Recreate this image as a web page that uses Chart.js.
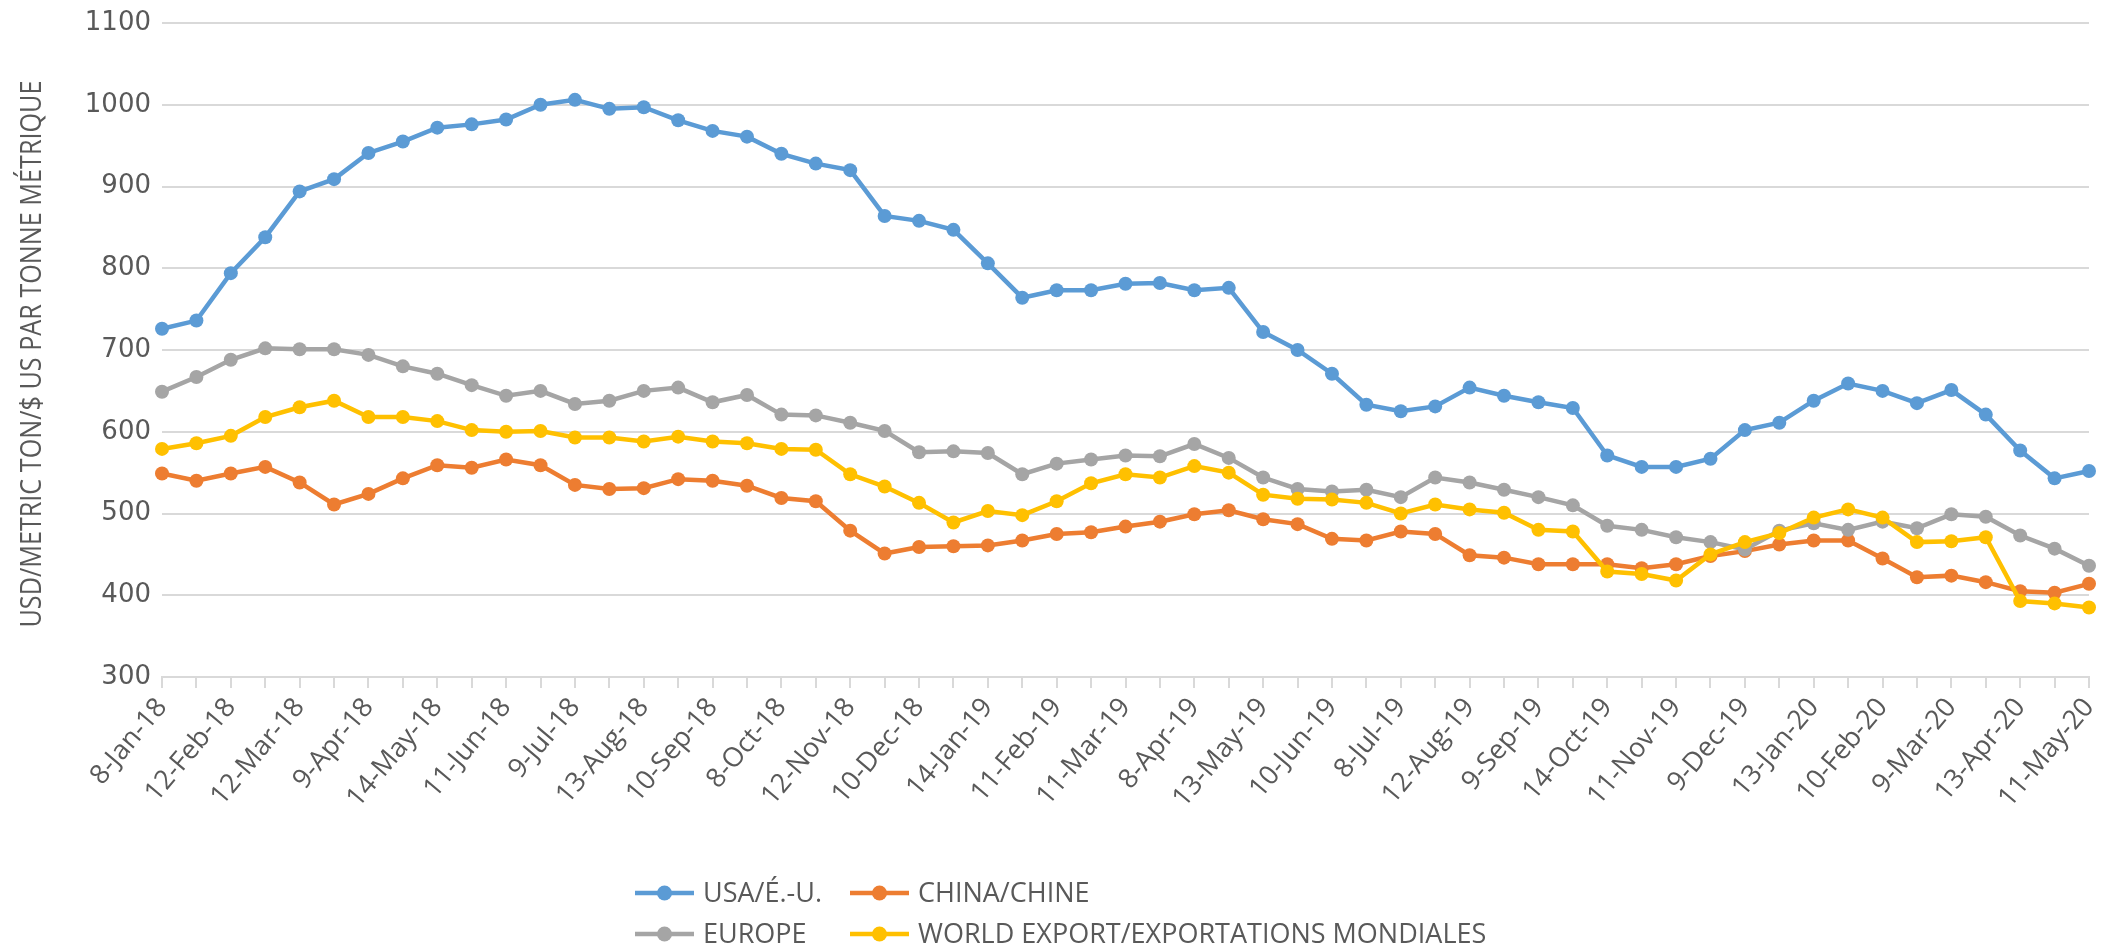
<!DOCTYPE html>
<html>
<head>
<meta charset="utf-8">
<script src="https://cdn.jsdelivr.net/npm/chart.js@4.4.0/dist/chart.umd.min.js"></script>
<style>
	html, body { margin: 0; padding: 0; background: #fff; }
</style>
</head>
<body>
<canvas id="chart1" width="2102" height="949"></canvas>
<script>
var dates = [
	"8-Jan-18", "22-Jan-18", "12-Feb-18", "26-Feb-18", "12-Mar-18", "26-Mar-18", "9-Apr-18", "23-Apr-18",
	"14-May-18", "28-May-18", "11-Jun-18", "25-Jun-18", "9-Jul-18", "23-Jul-18", "13-Aug-18", "27-Aug-18",
	"10-Sep-18", "24-Sep-18", "8-Oct-18", "22-Oct-18", "12-Nov-18", "26-Nov-18", "10-Dec-18", "24-Dec-18",
	"14-Jan-19", "28-Jan-19", "11-Feb-19", "25-Feb-19", "11-Mar-19", "25-Mar-19", "8-Apr-19", "22-Apr-19",
	"13-May-19", "27-May-19", "10-Jun-19", "24-Jun-19", "8-Jul-19", "22-Jul-19", "12-Aug-19", "26-Aug-19",
	"9-Sep-19", "23-Sep-19", "14-Oct-19", "28-Oct-19", "11-Nov-19", "25-Nov-19", "9-Dec-19", "23-Dec-19",
	"13-Jan-20", "27-Jan-20", "10-Feb-20", "24-Feb-20", "9-Mar-20", "23-Mar-20", "13-Apr-20", "27-Apr-20",
	"11-May-20"
];

var usa = [726, 736, 794, 838, 894, 909, 941, 955, 972, 976, 982, 1000, 1006, 995, 997, 981, 968, 961, 940, 928,
	920, 864, 858, 847, 806, 764, 773, 773, 781, 782, 773, 776, 722, 700, 671, 633, 625, 631, 654, 644,
	636, 629, 571, 557, 557, 567, 602, 611, 638, 659, 650, 635, 651, 621, 577, 543, 552];
var china = [549, 540, 549, 557, 538, 511, 524, 543, 559, 556, 566, 559, 535, 530, 531, 542, 540, 534, 519, 515,
	479, 451, 459, 460, 461, 467, 475, 477, 484, 490, 499, 504, 493, 487, 469, 467, 478, 475, 449, 446,
	438, 438, 438, 433, 438, 448, 454, 462, 467, 467, 445, 422, 424, 416, 405, 403, 414];
var europe = [649, 667, 688, 702, 701, 701, 694, 680, 671, 657, 644, 650, 634, 638, 650, 654, 636, 645, 621, 620,
	611, 601, 575, 576, 574, 548, 561, 566, 571, 570, 585, 568, 544, 530, 527, 529, 520, 544, 538, 529,
	520, 510, 485, 480, 471, 465, 456, 479, 488, 480, 490, 482, 499, 496, 473, 457, 436];
var world = [579, 586, 595, 618, 630, 638, 618, 618, 613, 602, 600, 601, 593, 593, 588, 594, 588, 586, 579, 578,
	548, 533, 513, 489, 503, 498, 515, 537, 548, 544, 558, 550, 523, 518, 517, 513, 500, 511, 505, 501,
	480, 478, 429, 426, 418, 450, 465, 476, 495, 505, 495, 465, 466, 471, 393, 390, 385];

var seriesNames = ["USA/É.-U.", "CHINA/CHINE", "EUROPE", "WORLD EXPORT/EXPORTATIONS MONDIALES"];
var seriesColors = ["#5B9BD5", "#ED7D31", "#A5A5A5", "#FFC000"];
var yTitle = "USD/METRIC TON/$ US PAR TONNE MÉTRIQUE";
var yMin = 300, yMax = 1100, yStep = 100;

function makeSet(i, values) {
	return {
		label: seriesNames[i],
		data: values,
		borderColor: seriesColors[i],
		backgroundColor: seriesColors[i],
		borderWidth: 4.5,
		pointRadius: 7,
		pointBorderWidth: 0,
		pointHoverRadius: 7,
		fill: false,
		tension: 0,
		clip: false,
		order: 4 - i
	};
}

// y title, a bit condensed like the original
var sideTitle = {
	id: "sideTitle",
	afterDraw: function (chart) {
		var c = chart.ctx;
		c.save();
		c.font = "29px 'Open Sans'";
		c.fillStyle = "#595959";
		c.textAlign = "center";
		c.textBaseline = "middle";
		var w = c.measureText(yTitle).width;
		c.translate(33, 354);
		c.rotate(-Math.PI / 2);
		c.scale(547 / w, 1);
		c.fillText(yTitle, 0, 0);
		c.restore();
	}
};

// legend in two fixed columns under the chart
var bottomLegend = {
	id: "bottomLegend",
	afterDraw: function (chart) {
		var c = chart.ctx;
		var cols = [635, 850];
		var rows = [893, 934];
		c.save();
		chart.data.datasets.forEach(function (ds, i) {
			var x = cols[i % 2];
			var y = rows[Math.floor(i / 2)];
			c.strokeStyle = ds.borderColor;
			c.lineWidth = 4.5;
			c.beginPath();
			c.moveTo(x, y);
			c.lineTo(x + 59, y);
			c.stroke();
			c.fillStyle = ds.borderColor;
			c.beginPath();
			c.arc(x + 29.5, y, 7.5, 0, Math.PI * 2);
			c.fill();
			c.fillStyle = "#595959";
			c.font = "27px 'Open Sans'";
			c.textAlign = "left";
			c.textBaseline = "middle";
			c.fillText(ds.label, x + 68, y + 1);
		});
		c.restore();
	}
};

var ctx = document.getElementById("chart1").getContext("2d");
var chartdata = {
	type: "line",
	data: {
		labels: dates,
		datasets: [makeSet(0, usa), makeSet(1, china), makeSet(2, europe), makeSet(3, world)]
	},
	options: {
		responsive: false,
		animation: false,
		devicePixelRatio: 1,
		layout: { padding: { left: 0, right: 13, top: 23, bottom: 132 } },
		plugins: {
			legend: { display: false },
			tooltip: { enabled: false }
		},
		scales: {
			x: {
				grid: { drawOnChartArea: false, drawTicks: true, tickLength: 11, color: "#d9d9d9", lineWidth: 2 },
				border: { display: true, color: "#d9d9d9", width: 2 },
				ticks: {
					autoSkip: false,
					minRotation: 50,
					maxRotation: 50,
					padding: 4,
					color: "#595959",
					font: { family: "'Open Sans'", size: 27 },
					callback: function (v, i) {
						return i % 2 === 0 ? this.getLabelForValue(v) : "";
					}
				},
				afterFit: function (scale) {
					scale.height = 140;
					scale.paddingLeft = 0;
					scale.paddingRight = 0;
				}
			},
			y: {
				min: yMin,
				max: yMax,
				ticks: {
					stepSize: yStep,
					padding: 11,
					color: "#595959",
					font: { family: "'DejaVu Sans'", size: 26 },
					callback: function (v) {
						return String(v);
					}
				},
				grid: { drawTicks: false, color: "#d9d9d9", lineWidth: 2 },
				border: { display: false },
				afterFit: function (scale) {
					scale.width = 162;
					scale.paddingTop = 0;
					scale.paddingBottom = 0;
				}
			}
		}
	},
	plugins: [sideTitle, bottomLegend]
};

new Chart(ctx, chartdata);
</script>
</body>
</html>
